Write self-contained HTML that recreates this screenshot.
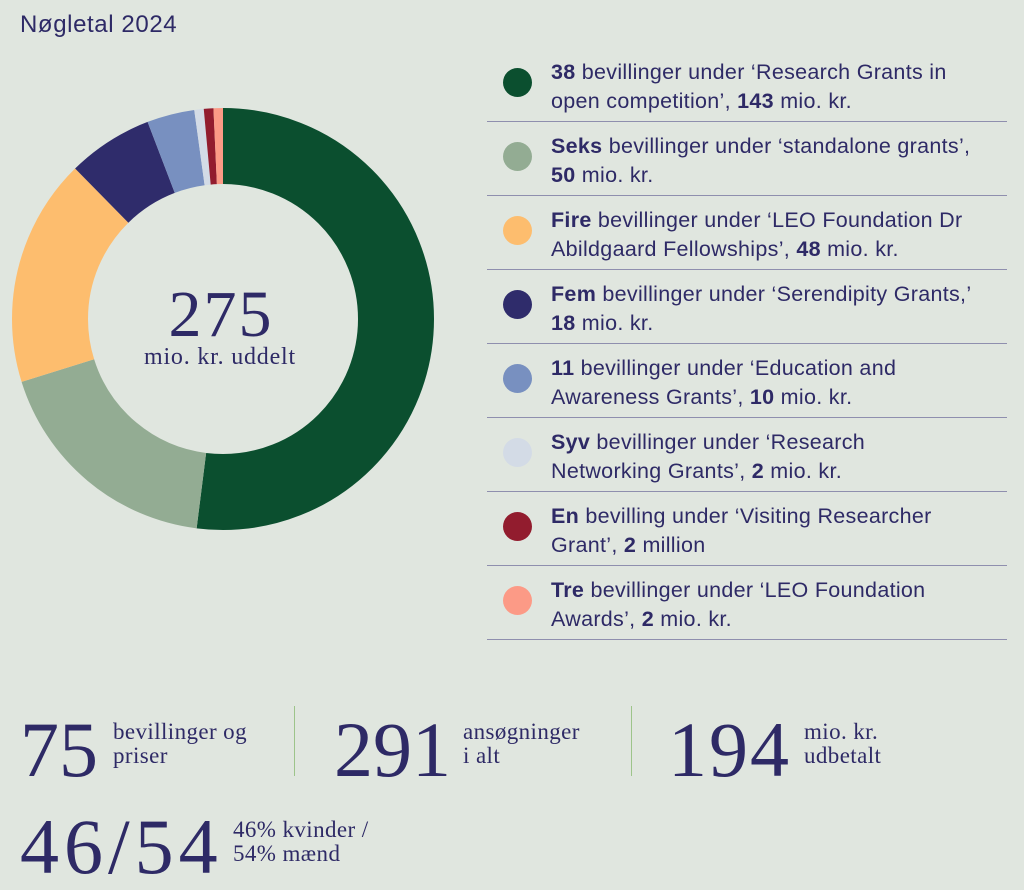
<!DOCTYPE html>
<html><head><meta charset="utf-8"><style>
body{margin:0;width:1024px;height:885px;background:#e0e6df;color:#2e2a66;font-family:"Liberation Sans",sans-serif;position:relative;overflow:hidden}
.t{position:absolute}
.row{position:absolute;left:487px;width:520px;height:74px;border-bottom:1px solid #8f8fae}
.dot{position:absolute;left:16px;top:21px;width:29px;height:29px;border-radius:50%}
.txt{position:absolute;left:64px;top:11px;font-size:21.5px;line-height:29px;white-space:nowrap;letter-spacing:0.3px}
.big{position:absolute;font-family:"Liberation Serif",serif;font-size:78px;line-height:1}
.small{position:absolute;font-family:"Liberation Serif",serif;font-size:23px;line-height:24px;letter-spacing:0.4px}
.vl{position:absolute;top:706px;width:1px;height:70px;background:#9dc48a}
</style></head><body>
<div class="t" style="left:20px;top:11px;font-size:24px;letter-spacing:0.6px">Nøgletal 2024</div>
<svg class="t" style="left:0;top:0" width="460" height="560">
<g transform="rotate(-90 223 319)" fill="none" stroke-width="76">
<circle cx="223" cy="319" r="173" pathLength="275" stroke="#0b4f2f" stroke-dasharray="143 1000" stroke-dashoffset="0"/>
<circle cx="223" cy="319" r="173" pathLength="275" stroke="#93ac93" stroke-dasharray="50 1000" stroke-dashoffset="-143"/>
<circle cx="223" cy="319" r="173" pathLength="275" stroke="#fdbd6e" stroke-dasharray="48 1000" stroke-dashoffset="-193"/>
<circle cx="223" cy="319" r="173" pathLength="275" stroke="#2f2c6b" stroke-dasharray="18 1000" stroke-dashoffset="-241"/>
<circle cx="223" cy="319" r="173" pathLength="275" stroke="#7890c0" stroke-dasharray="10 1000" stroke-dashoffset="-259"/>
<circle cx="223" cy="319" r="173" pathLength="275" stroke="#d3dbe6" stroke-dasharray="2 1000" stroke-dashoffset="-269"/>
<circle cx="223" cy="319" r="173" pathLength="275" stroke="#921c2e" stroke-dasharray="2 1000" stroke-dashoffset="-271"/>
<circle cx="223" cy="319" r="173" pathLength="275" stroke="#fc9a86" stroke-dasharray="2 1000" stroke-dashoffset="-273"/>
</g>
<text x="221" y="336" text-anchor="middle" font-family="Liberation Serif,serif" font-size="66" fill="#2e2a66" letter-spacing="2">275</text>
<text x="220" y="364" text-anchor="middle" font-family="Liberation Serif,serif" font-size="24" fill="#2e2a66" letter-spacing="0.8">mio. kr. uddelt</text>
</svg>
<div class="row" style="top:47px"><div class="dot" style="background:#0b4f2f"></div><div class="txt"><b>38</b> bevillinger under ‘Research Grants in<br>open competition’, <b>143</b> mio. kr.</div></div>
<div class="row" style="top:121px"><div class="dot" style="background:#93ac93"></div><div class="txt"><b>Seks</b> bevillinger under ‘standalone grants’,<br><b>50</b> mio. kr.</div></div>
<div class="row" style="top:195px"><div class="dot" style="background:#fdbd6e"></div><div class="txt"><b>Fire</b> bevillinger under ‘LEO Foundation Dr<br>Abildgaard Fellowships’, <b>48</b> mio. kr.</div></div>
<div class="row" style="top:269px"><div class="dot" style="background:#2f2c6b"></div><div class="txt"><b>Fem</b> bevillinger under ‘Serendipity Grants,’<br><b>18</b> mio. kr.</div></div>
<div class="row" style="top:343px"><div class="dot" style="background:#7890c0"></div><div class="txt"><b>11</b> bevillinger under ‘Education and<br>Awareness Grants’, <b>10</b> mio. kr.</div></div>
<div class="row" style="top:417px"><div class="dot" style="background:#d3dbe6"></div><div class="txt"><b>Syv</b> bevillinger under ‘Research<br>Networking Grants’, <b>2</b> mio. kr.</div></div>
<div class="row" style="top:491px"><div class="dot" style="background:#921c2e"></div><div class="txt"><b>En</b> bevilling under ‘Visiting Researcher<br>Grant’, <b>2</b> million</div></div>
<div class="row" style="top:565px"><div class="dot" style="background:#fc9a86"></div><div class="txt"><b>Tre</b> bevillinger under ‘LEO Foundation<br>Awards’, <b>2</b> mio. kr.</div></div>

<div class="big" style="left:20px;top:711px">75</div>
<div class="small" style="left:113px;top:720px">bevillinger og<br>priser</div>
<div class="vl" style="left:294px"></div>
<div class="big" style="left:334px;top:711px">291</div>
<div class="small" style="left:463px;top:720px">ansøgninger<br>i alt</div>
<div class="vl" style="left:631px"></div>
<div class="big" style="left:668px;top:711px;letter-spacing:2px">194</div>
<div class="small" style="left:804px;top:720px">mio. kr.<br>udbetalt</div>
<div class="big" style="left:20px;top:808px;letter-spacing:5px">46/54</div>
<div class="small" style="left:233px;top:818px">46% kvinder /<br>54% mænd</div>
</body></html>
